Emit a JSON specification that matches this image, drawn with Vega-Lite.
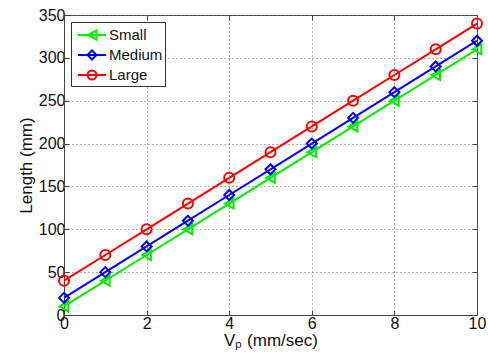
{
  "$schema": "https://vega.github.io/schema/vega-lite/v6.json",
  "autosize": {"type": "none"},
  "width": 413,
  "height": 300,
  "padding": {"left": 64, "top": 15, "right": 11, "bottom": 43},
  "background": "white",
  "config": {
    "font": "Liberation Sans",
    "view": {"stroke": "#444", "strokeWidth": 1},
    "axis": {
      "labelFont": "Liberation Sans", "labelFontSize": 16, "labelColor": "#111", "labelFlush": false,
      "titleFont": "Liberation Sans", "titleFontSize": 17, "titleFontWeight": "normal", "titleColor": "#111",
      "domainColor": "#444", "tickColor": "#444", "tickSize": -5,
      "gridColor": "#666", "gridDash": [1, 3], "gridWidth": 1, "gridOpacity": 1
    },
    "legend": {
      "orient": "top-left", "offset": 7, "padding": 2,
      "strokeColor": "#333", "fillColor": "white",
      "labelFont": "Liberation Sans", "labelFontSize": 15, "labelColor": "#111", "labelOffset": 14,
      "symbolSize": 400, "symbolStrokeWidth": 2, "symbolOpacity": 1, "rowPadding": 0
    }
  },
  "data": {
    "values": [
      {"x": 0, "Size": "Small", "Length": 10},
      {"x": 1, "Size": "Small", "Length": 40},
      {"x": 2, "Size": "Small", "Length": 70},
      {"x": 3, "Size": "Small", "Length": 100},
      {"x": 4, "Size": "Small", "Length": 130},
      {"x": 5, "Size": "Small", "Length": 160},
      {"x": 6, "Size": "Small", "Length": 190},
      {"x": 7, "Size": "Small", "Length": 220},
      {"x": 8, "Size": "Small", "Length": 250},
      {"x": 9, "Size": "Small", "Length": 280},
      {"x": 10, "Size": "Small", "Length": 310},
      {"x": 0, "Size": "Medium", "Length": 20},
      {"x": 1, "Size": "Medium", "Length": 50},
      {"x": 2, "Size": "Medium", "Length": 80},
      {"x": 3, "Size": "Medium", "Length": 110},
      {"x": 4, "Size": "Medium", "Length": 140},
      {"x": 5, "Size": "Medium", "Length": 170},
      {"x": 6, "Size": "Medium", "Length": 200},
      {"x": 7, "Size": "Medium", "Length": 230},
      {"x": 8, "Size": "Medium", "Length": 260},
      {"x": 9, "Size": "Medium", "Length": 290},
      {"x": 10, "Size": "Medium", "Length": 320},
      {"x": 0, "Size": "Large", "Length": 40},
      {"x": 1, "Size": "Large", "Length": 70},
      {"x": 2, "Size": "Large", "Length": 100},
      {"x": 3, "Size": "Large", "Length": 130},
      {"x": 4, "Size": "Large", "Length": 160},
      {"x": 5, "Size": "Large", "Length": 190},
      {"x": 6, "Size": "Large", "Length": 220},
      {"x": 7, "Size": "Large", "Length": 250},
      {"x": 8, "Size": "Large", "Length": 280},
      {"x": 9, "Size": "Large", "Length": 310},
      {"x": 10, "Size": "Large", "Length": 340}
    ]
  },
  "resolve": {"axis": {"x": "independent", "y": "independent"}, "scale": {"shape": "independent", "stroke": "independent"}},
  "layer": [
    {
      "mark": {"type": "line", "strokeWidth": 2},
      "encoding": {
        "x": {"field": "x", "type": "quantitative", "scale": {"domain": [0, 10], "nice": false},
          "axis": {"orient": "bottom", "values": [0, 2, 4, 6, 8, 10], "title": "Vₚ (mm/sec)", "labelPadding": 5, "titlePadding": 1, "grid": true}},
        "y": {"field": "Length", "type": "quantitative", "scale": {"domain": [0, 350], "nice": false},
          "axis": {"orient": "left", "values": [0, 50, 100, 150, 200, 250, 300, 350], "title": "Length (mm)", "labelPadding": 4, "titlePadding": 3, "grid": true}},
        "color": {"field": "Size", "type": "nominal", "sort": ["Small", "Medium", "Large"],
          "scale": {"domain": ["Small", "Medium", "Large"], "range": ["#00ee00", "#0000ff", "#ff0000"]},
          "legend": null}
      }
    },
    {
      "mark": {"type": "point", "filled": false, "size": 100, "strokeWidth": 2, "opacity": 1},
      "encoding": {
        "x": {"field": "x", "type": "quantitative", "scale": {"domain": [0, 10], "nice": false},
          "axis": {"orient": "top", "values": [0, 2, 4, 6, 8, 10], "labels": false, "title": null, "grid": false, "domain": false}},
        "y": {"field": "Length", "type": "quantitative", "scale": {"domain": [0, 350], "nice": false},
          "axis": {"orient": "right", "values": [0, 50, 100, 150, 200, 250, 300, 350], "labels": false, "title": null, "grid": false, "domain": false}},
        "color": {"field": "Size", "type": "nominal", "sort": ["Small", "Medium", "Large"],
          "scale": {"domain": ["Small", "Medium", "Large"], "range": ["#00ee00", "#0000ff", "#ff0000"]},
          "legend": null},
        "shape": {"field": "Size", "type": "nominal", "sort": ["Small", "Medium", "Large"],
          "scale": {"domain": ["Small", "Medium", "Large"], "range": ["triangle-left", "diamond", "circle"]},
          "legend": null}
      }
    },
    {
      "mark": {"type": "point", "filled": false, "size": 400, "strokeWidth": 2, "opacity": 0},
      "encoding": {
        "x": {"field": "x", "type": "quantitative", "axis": null},
        "y": {"field": "Length", "type": "quantitative", "axis": null},
        "stroke": {"field": "Size", "type": "nominal", "sort": ["Small", "Medium", "Large"],
          "scale": {"domain": ["Small", "Medium", "Large"], "range": ["#00ee00", "#0000ff", "#ff0000"]},
          "legend": {"title": null}},
        "shape": {"field": "Size", "type": "nominal", "sort": ["Small", "Medium", "Large"],
          "scale": {"domain": ["Small", "Medium", "Large"],
            "range": ["M-0.6,0H2.2M0.4,0L1.25,-0.45L1.25,0.45Z", "M-0.6,0H2.2M0.35,0L0.8,-0.45L1.25,0L0.8,0.45Z", "M-0.6,0H2.2M0.35,0A0.45,0.45 0 1,1 1.25,0A0.45,0.45 0 1,1 0.35,0Z"]},
          "legend": {"title": null}}
      }
    }
  ]
}
